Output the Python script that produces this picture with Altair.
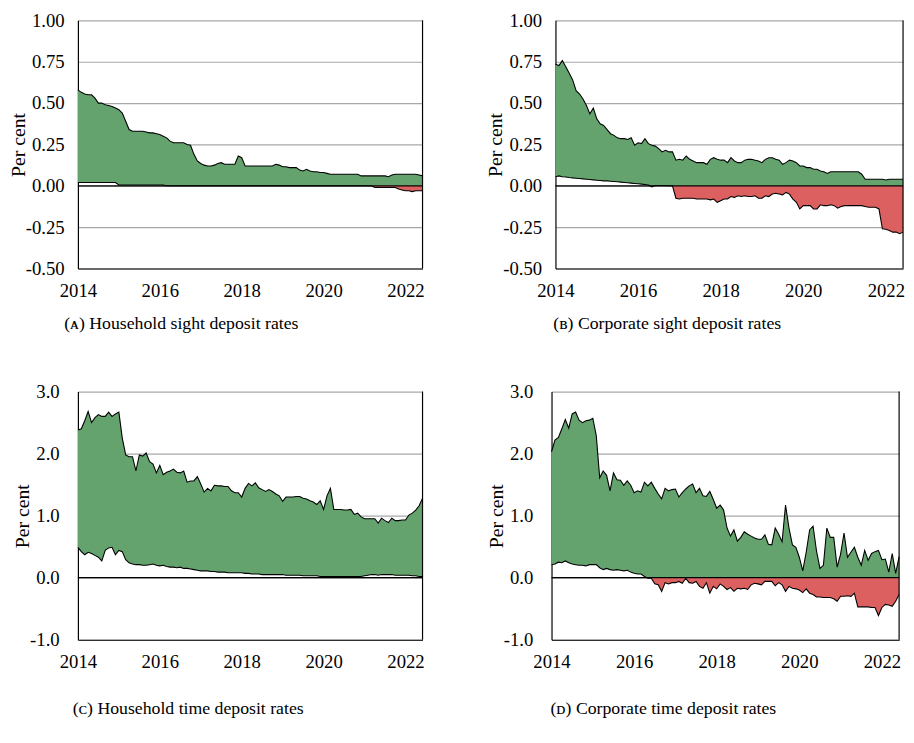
import altair as alt
import pandas as pd

# ---------------- data (monthly, Jan 2014 - Jun 2022) ----------------
start_year = 2014
tick_years = [2014, 2016, 2018, 2020, 2022]

upper_a = [0.58, 0.565, 0.555, 0.55, 0.55, 0.53, 0.50, 0.50, 0.49, 0.485,
           0.48, 0.47, 0.46, 0.44, 0.39, 0.34, 0.33, 0.33, 0.33, 0.33,
           0.325, 0.32, 0.32, 0.315, 0.31, 0.30, 0.29, 0.27, 0.26, 0.26,
           0.26, 0.26, 0.25, 0.245, 0.19, 0.15, 0.135, 0.125, 0.12, 0.12,
           0.125, 0.135, 0.14, 0.13, 0.13, 0.13, 0.13, 0.18, 0.17, 0.12,
           0.12, 0.12, 0.12, 0.12, 0.12, 0.12, 0.12, 0.12, 0.13, 0.125,
           0.115, 0.115, 0.11, 0.11, 0.11, 0.095, 0.09, 0.10, 0.09, 0.085,
           0.085, 0.08, 0.08, 0.075, 0.07, 0.07, 0.07, 0.07, 0.07, 0.07,
           0.07, 0.07, 0.07, 0.06, 0.06, 0.06, 0.06, 0.06, 0.06, 0.06,
           0.06, 0.055, 0.065, 0.07, 0.07, 0.07, 0.07, 0.07, 0.07, 0.07,
           0.065, 0.06]
lower_a = [0.02, 0.02, 0.02, 0.02, 0.02, 0.02, 0.02, 0.02, 0.02, 0.02,
           0.02, 0.02, 0.005, 0.005, 0.005, 0.005, 0.005, 0.005, 0.005, 0.005,
           0.005, 0.005, 0.005, 0.005, 0.005, 0.005, 0.0, 0.0, 0.0, 0.0,
           0.0, 0.0, 0.0, 0.0, 0.0, 0.0, 0.0, 0.0, 0.0, 0.0,
           0.0, 0.0, 0.0, 0.0, 0.0, 0.0, 0.0, 0.0, 0.0, 0.0,
           0.0, 0.0, 0.0, 0.0, 0.0, 0.0, 0.0, 0.0, 0.0, 0.0,
           0.0, 0.0, 0.0, 0.0, 0.0, 0.0, 0.0, 0.0, 0.0, 0.0,
           0.0, 0.0, 0.0, 0.0, 0.0, 0.0, 0.0, 0.0, 0.0, 0.0,
           0.0, 0.0, 0.0, 0.0, 0.0, 0.0, 0.0, -0.01, -0.01, -0.01,
           -0.01, -0.01, -0.01, -0.01, -0.02, -0.025, -0.03, -0.03, -0.035, -0.03,
           -0.03, -0.03]

upper_b = [0.735, 0.727, 0.757, 0.72, 0.68, 0.64, 0.575, 0.555, 0.525, 0.485,
           0.435, 0.47, 0.405, 0.375, 0.365, 0.34, 0.315, 0.305, 0.29, 0.285,
           0.285, 0.28, 0.29, 0.245, 0.26, 0.255, 0.285, 0.255, 0.245, 0.24,
           0.225, 0.205, 0.215, 0.205, 0.205, 0.155, 0.16, 0.155, 0.18, 0.16,
           0.15, 0.14, 0.14, 0.14, 0.13, 0.16, 0.17, 0.16, 0.155, 0.155,
           0.14, 0.17, 0.15, 0.14, 0.14, 0.155, 0.16, 0.16, 0.155, 0.15,
           0.14, 0.16, 0.17, 0.17, 0.16, 0.155, 0.13, 0.14, 0.155, 0.15,
           0.14, 0.12, 0.12, 0.11, 0.11, 0.10, 0.10, 0.09, 0.085, 0.075,
           0.085, 0.085, 0.085, 0.085, 0.085, 0.085, 0.085, 0.085, 0.085, 0.07,
           0.04, 0.04, 0.04, 0.04, 0.04, 0.04, 0.035, 0.04, 0.04, 0.04,
           0.04, 0.04]
lower_b = [0.055, 0.06, 0.055, 0.053, 0.05, 0.048, 0.046, 0.044, 0.042, 0.04,
           0.038, 0.036, 0.034, 0.032, 0.03, 0.03, 0.028, 0.026, 0.024, 0.022,
           0.02, 0.018, 0.016, 0.014, 0.012, 0.01, 0.008, 0.005, -0.006, 0.002,
           0.002, 0.002, 0.002, 0.0, 0.0, -0.075, -0.08, -0.075, -0.075, -0.075,
           -0.075, -0.08, -0.08, -0.08, -0.08, -0.085, -0.08, -0.10, -0.09, -0.08,
           -0.08, -0.065, -0.07, -0.06, -0.065, -0.06, -0.065, -0.065, -0.06, -0.075,
           -0.075, -0.06, -0.065, -0.05, -0.045, -0.05, -0.055, -0.04, -0.05, -0.08,
           -0.10, -0.14, -0.12, -0.12, -0.12, -0.14, -0.14, -0.115, -0.12, -0.12,
           -0.115, -0.12, -0.135, -0.125, -0.12, -0.12, -0.12, -0.12, -0.12, -0.12,
           -0.125, -0.13, -0.13, -0.13, -0.14, -0.26, -0.263, -0.27, -0.28, -0.28,
           -0.29, -0.28]

upper_c = [2.38, 2.40, 2.53, 2.68, 2.50, 2.58, 2.63, 2.60, 2.60, 2.67,
           2.60, 2.64, 2.67, 2.25, 1.98, 1.95, 1.95, 1.72, 1.98, 1.96,
           2.01, 1.87, 1.83, 1.69, 1.81, 1.66, 1.70, 1.72, 1.75, 1.70,
           1.69, 1.72, 1.54, 1.56, 1.56, 1.63, 1.51, 1.38, 1.44, 1.40,
           1.49, 1.48, 1.48, 1.47, 1.47, 1.40, 1.37, 1.37, 1.30, 1.44,
           1.52, 1.48, 1.53, 1.45, 1.42, 1.39, 1.42, 1.39, 1.35, 1.32,
           1.23, 1.30, 1.30, 1.30, 1.31, 1.31, 1.28, 1.27, 1.24, 1.22,
           1.18, 1.24, 1.10, 1.32, 1.44, 1.10, 1.10, 1.10, 1.09, 1.09,
           1.10, 1.02, 1.04, 0.98, 0.95, 0.95, 0.95, 0.95, 0.88, 0.96,
           0.92, 0.89, 0.96, 0.92, 0.92, 0.93, 0.93, 1.01, 1.04, 1.09,
           1.16, 1.28]
lower_c = [0.49, 0.42, 0.37, 0.41, 0.39, 0.36, 0.33, 0.27, 0.44, 0.48,
           0.49, 0.37, 0.44, 0.42, 0.29, 0.24, 0.22, 0.21, 0.21, 0.20,
           0.20, 0.21, 0.22, 0.20, 0.19, 0.20, 0.18, 0.17, 0.17, 0.16,
           0.17, 0.15, 0.15, 0.14, 0.13, 0.12, 0.11, 0.11, 0.11, 0.10,
           0.10, 0.09, 0.09, 0.09, 0.08, 0.08, 0.08, 0.08, 0.08, 0.07,
           0.07, 0.06, 0.06, 0.06, 0.05, 0.05, 0.05, 0.05, 0.05, 0.05,
           0.05, 0.04, 0.04, 0.04, 0.04, 0.04, 0.03, 0.03, 0.03, 0.03,
           0.03, 0.02, 0.02, 0.02, 0.02, 0.02, 0.02, 0.02, 0.02, 0.02,
           0.02, 0.02, 0.02, 0.02, 0.03, 0.04, 0.05, 0.05, 0.04, 0.05,
           0.05, 0.05, 0.05, 0.04, 0.04, 0.04, 0.04, 0.04, 0.03, 0.03,
           0.02, 0.02]

upper_d = [2.03, 2.22, 2.26, 2.40, 2.55, 2.41, 2.64, 2.67, 2.54, 2.50,
           2.53, 2.54, 2.57, 2.29, 1.61, 1.72, 1.65, 1.40, 1.69, 1.58,
           1.57, 1.49, 1.56, 1.49, 1.37, 1.40, 1.38, 1.54, 1.48, 1.54,
           1.44, 1.35, 1.27, 1.44, 1.40, 1.42, 1.43, 1.30, 1.37, 1.43,
           1.48, 1.51, 1.37, 1.44, 1.32, 1.31, 1.39, 1.26, 1.12, 1.17,
           1.09, 0.80, 0.67, 0.77, 0.59, 0.65, 0.74, 0.70, 0.67, 0.64,
           0.62, 0.62, 0.69, 0.54, 0.53, 0.80, 0.70, 0.58, 1.17, 0.80,
           0.53, 0.49, 0.33, 0.11, 0.41, 0.77, 0.83, 0.43, 0.15, 0.20,
           0.80, 0.65, 0.65, 0.17, 0.38, 0.72, 0.33, 0.41, 0.49, 0.33,
           0.20, 0.44, 0.28, 0.39, 0.42, 0.44, 0.29, 0.30, 0.09, 0.39,
           0.07, 0.34]
lower_d = [0.21, 0.22, 0.25, 0.24, 0.27, 0.24, 0.22, 0.21, 0.20, 0.20,
           0.19, 0.21, 0.21, 0.21, 0.16, 0.13, 0.15, 0.13, 0.12, 0.13,
           0.12, 0.11, 0.12, 0.09, 0.07, 0.06, 0.06, 0.02, -0.01, -0.01,
           -0.10, -0.115, -0.22, -0.08, -0.10, -0.08, -0.08, -0.06, -0.09, -0.01,
           -0.08, -0.09, -0.06, -0.14, -0.17, -0.08, -0.25, -0.14, -0.18, -0.10,
           -0.14, -0.19, -0.16, -0.22, -0.17, -0.18, -0.17, -0.19, -0.115, -0.09,
           -0.10, -0.115, -0.06, -0.06, -0.06, -0.13, -0.08, -0.115, -0.22, -0.14,
           -0.17, -0.18, -0.20, -0.24, -0.18, -0.25, -0.27, -0.31, -0.31, -0.32,
           -0.32, -0.32, -0.34, -0.38, -0.30, -0.30, -0.29, -0.30, -0.25, -0.47,
           -0.47, -0.47, -0.47, -0.48, -0.48, -0.61, -0.48, -0.43, -0.44, -0.46,
           -0.38, -0.27]

yticks_top = [-0.5, -0.25, 0.0, 0.25, 0.5, 0.75, 1.0]
yticks_bottom = [-1.0, -0.5, 0.0, 0.5, 1.0, 1.5, 2.0, 2.5, 3.0]

captions = ["(\u1d00) Household sight deposit rates",
            "(\u0299) Corporate sight deposit rates",
            "(\u1d04) Household time deposit rates",
            "(\u1d05) Corporate time deposit rates"]

# ---------------- styling ----------------
GREEN = "#64a36e"
RED = "#dd6060"
FONT = "Liberation Serif"


def panel(upper, lower, yvals, fmt, caption, width, height, dx, lab_pad, cap_off):
    t = [start_year + m / 12 for m in range(len(upper))]
    df = pd.DataFrame({"t": t, "upper": upper, "lower": lower})
    df["g_lo"] = df["lower"].clip(lower=0)
    df["g_hi"] = df["upper"].clip(lower=0)
    df["r_lo"] = df["lower"].clip(upper=0)
    df["r_hi"] = df["upper"].clip(upper=0)
    xmax = t[-1]

    xs = alt.Scale(domain=[start_year, xmax], nice=False, zero=False)
    ys = alt.Scale(domain=[yvals[0], yvals[-1]], nice=False, zero=False)
    xaxis = alt.Axis(values=tick_years, format="d", title=None)
    yaxis = alt.Axis(values=yvals, title="Per cent", labelPadding=lab_pad,
                     labelExpr="replace(format(datum.value, '%s'), '\u2212', '-')" % fmt)

    base = alt.Chart(df)
    green = base.mark_area(color=GREEN, opacity=1).encode(
        x=alt.X("t:Q", scale=xs, axis=xaxis),
        y=alt.Y("g_lo:Q", scale=ys, axis=yaxis),
        y2="g_hi:Q")
    red = base.mark_area(color=RED, opacity=1).encode(
        x="t:Q", y="r_lo:Q", y2="r_hi:Q")
    up_line = base.mark_line(color="black", strokeWidth=1.1).encode(
        x="t:Q", y="upper:Q")
    lo_line = base.mark_line(color="black", strokeWidth=1.1).encode(
        x="t:Q", y="lower:Q")
    zero = alt.Chart(pd.DataFrame({"z": [0.0]})).mark_rule(
        color="black", strokeWidth=1.2).encode(y="z:Q")
    border = alt.Chart(pd.DataFrame({"xr": [xmax]})).mark_rule(
        color="black", strokeWidth=1.2).encode(x="xr:Q")

    return alt.layer(green, red, up_line, lo_line, zero, border).properties(
        width=width, height=height,
        title=alt.TitleParams(caption, orient="bottom", anchor="middle",
                              offset=cap_off, dx=dx))


pa = panel(upper_a, lower_a, yticks_top, ".2f", captions[0], 350, 252, -70, 14, 15)
pb = panel(upper_b, lower_b, yticks_top, ".2f", captions[1], 353, 252, -63, 14, 15)
pc = panel(upper_c, lower_c, yticks_bottom, ".1f", captions[2], 350, 252, -63, 19, 29)
pd_ = panel(upper_d, lower_d, yticks_bottom, ".1f", captions[3], 353, 252, -63, 19, 29)

chart = alt.concat(pa, pb, pc, pd_, columns=2, align="none",
                   spacing={"row": 51, "column": 61}).properties(
    padding={"left": 0, "top": -2, "right": 0, "bottom": 0},
    background="white"
).configure_view(
    stroke=None
).configure_axis(
    labelFont=FONT, labelFontSize=19, labelColor="black",
    titleFont=FONT, titleFontSize=20, titleFontWeight="normal", titleColor="black",
    domainColor="black", domainWidth=1.2, ticks=False, tickSize=0
).configure_axisX(
    grid=False, labelPadding=13, labelFlush=False
).configure_axisY(
    grid=True, gridColor="#a8a8a8", gridWidth=1.2, titlePadding=-3
).configure_title(
    font=FONT, fontSize=18, fontWeight="normal", color="black"
)

chart.save("out.html", embed_options={"renderer": "svg", "actions": False})
